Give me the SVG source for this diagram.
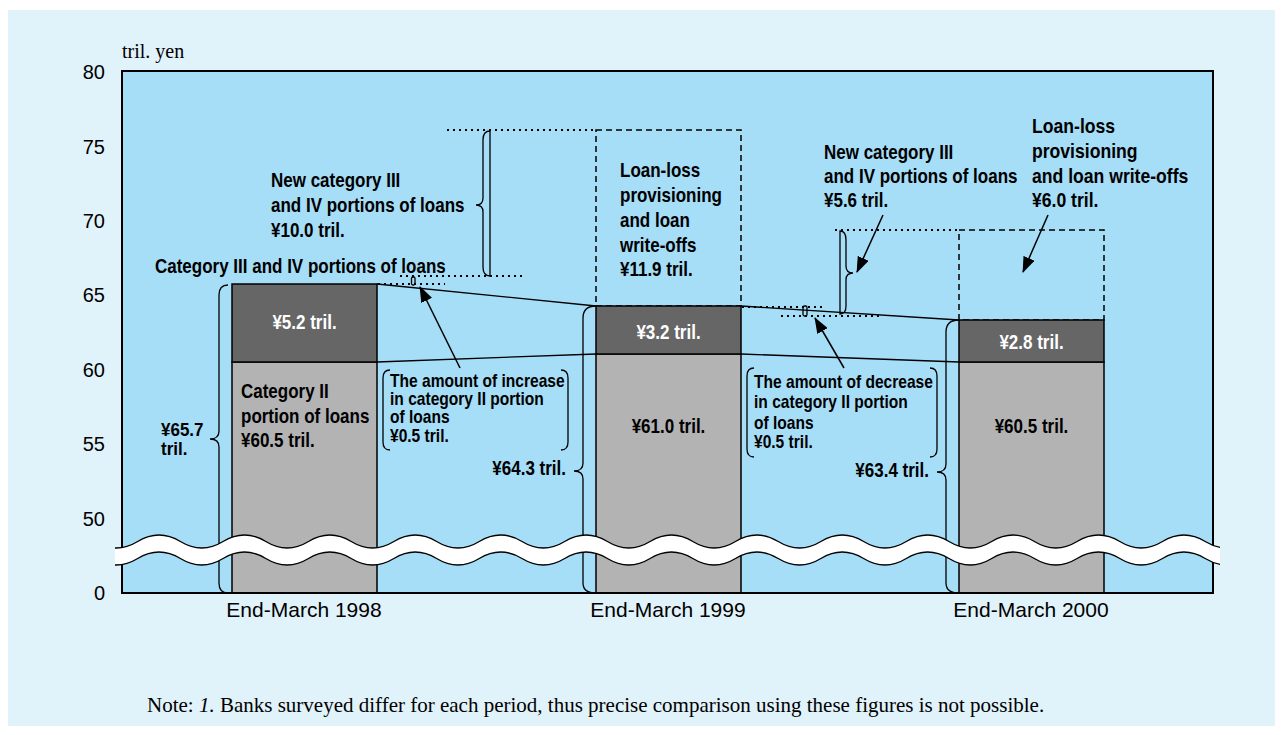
<svg xmlns="http://www.w3.org/2000/svg" width="1281" height="735" viewBox="0 0 1281 735">
  <style>
    .lbl { font-family: 'Liberation Sans', Arial, sans-serif; font-weight: bold; font-size: 20px; fill: #000; }
    .sm { font-size: 18px; }
    .md { font-size: 19px; }
    .wht { fill: #fff; }
    .mid { text-anchor: middle; }
    .end { text-anchor: end; }
    .tick { font-family: 'Liberation Sans', Arial, sans-serif; font-size: 20px; fill: #000; text-anchor: end; }
    .cat { font-family: 'Liberation Sans', Arial, sans-serif; font-size: 21px; fill: #000; text-anchor: middle; }
    .serif { font-family: 'Liberation Serif', 'Times New Roman', serif; font-size: 20px; fill: #000; }
    .note { font-size: 21px; }
    .dark { fill: #666666; stroke: #000; stroke-width: 1.5; }
    .light { fill: #b3b3b3; stroke: #000; stroke-width: 1.5; }
    .dash { fill: none; stroke: #000; stroke-width: 1.5; stroke-dasharray: 6 4; }
    .dot { fill: none; stroke: #000; stroke-width: 2; stroke-dasharray: 2 4; }
    .thin { fill: none; stroke: #000; stroke-width: 1.3; }
    .brace { fill: none; stroke: #000; stroke-width: 1.3; }
    .arrow { fill: none; stroke: #000; stroke-width: 1.5; marker-end: url(#head); }
  </style>
  <defs>
    <marker id="head" markerUnits="userSpaceOnUse" markerWidth="16" markerHeight="12" refX="15" refY="6" orient="auto">
      <path d="M0,0 L16,6 L0,12 Z" fill="#000"/>
    </marker>
    <clipPath id="breakClip">
      <rect x="115" y="515" width="1105" height="70"/>
    </clipPath>
  </defs>

  <!-- page background -->
  <rect x="8" y="10" width="1267" height="716" fill="#e0f2fa"/>

  <!-- plot area -->
  <rect id="plot" x="122" y="71" width="1091" height="522" fill="#a6ddf7"/>

  <!-- axis labels -->
  <g id="axis">
    <text class="serif" x="122" y="58">tril. yen</text>
    <text class="tick" x="105" y="79">80</text>
    <text class="tick" x="105" y="154">75</text>
    <text class="tick" x="105" y="228">70</text>
    <text class="tick" x="105" y="302">65</text>
    <text class="tick" x="105" y="377">60</text>
    <text class="tick" x="105" y="451">55</text>
    <text class="tick" x="105" y="526">50</text>
    <text class="tick" x="105" y="600">0</text>
    <text class="cat" x="304" y="617">End-March 1998</text>
    <text class="cat" x="668" y="617">End-March 1999</text>
    <text class="cat" x="1031" y="617">End-March 2000</text>
  </g>

  <!-- bars -->
  <g id="bar-1998">
    <rect class="light" x="232" y="362" width="145" height="231"/>
    <rect class="dark" x="232" y="284" width="145" height="78"/>
    <g transform="translate(304.5 0) scale(0.85 1)">
      <text class="lbl wht mid" x="0" y="329">¥5.2 tril.</text>
    </g>
    <g transform="translate(241 0) scale(0.85 1)">
      <text class="lbl" x="0" y="398">Category II</text>
      <text class="lbl" x="0" y="423">portion of loans</text>
      <text class="lbl" x="0" y="447">¥60.5 tril.</text>
    </g>
  </g>
  <g id="bar-1999">
    <rect class="dash" x="596" y="130" width="145" height="176"/>
    <rect class="light" x="596" y="354" width="145" height="239"/>
    <rect class="dark" x="596" y="306" width="145" height="48"/>
    <g transform="translate(668.5 0) scale(0.85 1)">
      <text class="lbl wht mid" x="0" y="339">¥3.2 tril.</text>
      <text class="lbl mid" x="0" y="433">¥61.0 tril.</text>
    </g>
  </g>
  <g id="bar-2000">
    <rect class="dash" x="959" y="230" width="145" height="90"/>
    <rect class="light" x="959" y="362" width="145" height="231"/>
    <rect class="dark" x="959" y="320" width="145" height="42"/>
    <g transform="translate(1031.5 0) scale(0.85 1)">
      <text class="lbl wht mid" x="0" y="349">¥2.8 tril.</text>
      <text class="lbl mid" x="0" y="433">¥60.5 tril.</text>
    </g>
  </g>

  <!-- connectors, guide lines, braces and arrows -->
  <g id="connectors">
    <line class="thin" x1="377" y1="284" x2="596" y2="306"/>
    <line class="thin" x1="377" y1="362" x2="596" y2="354"/>
    <line class="thin" x1="741" y1="306" x2="959" y2="320"/>
    <line class="thin" x1="741" y1="354" x2="959" y2="362"/>

    <line class="dot" x1="447" y1="130" x2="596" y2="130"/>
    <line class="dot" x1="400" y1="276" x2="525" y2="276"/>
    <line class="dot" x1="378" y1="284" x2="445" y2="284"/>
    <line class="dot" x1="742" y1="307" x2="826" y2="307"/>
    <line class="dot" x1="781" y1="316" x2="880" y2="316"/>
    <line class="dot" x1="835" y1="230" x2="959" y2="230"/>

    <!-- total braces -->
    <path class="brace" d="M228,285 Q219,285 219,295 L219,431 Q219,439 210,439 Q219,439 219,447 L219,583 Q219,593 228,593"/>
    <path class="brace" d="M596,306 Q583,306 583,318 L583,463 Q583,471 574,471 Q583,471 583,479 L583,583 Q583,593 596,593"/>
    <path class="brace" d="M959,320 Q946,320 946,332 L946,464 Q946,472 937,472 Q946,472 946,480 L946,583 Q946,593 959,593"/>

    <!-- new category III/IV braces -->
    <path class="brace" d="M490,131 Q483,131 483,140 L483,198 Q483,205 476,205 Q483,205 483,212 L483,267 Q483,276 490,276 Z"/>
    <path class="brace" d="M840,231 Q846,231 846,240 L846,266 Q846,273 853,273 Q846,273 846,280 L846,306 Q846,314 840,314 Z"/>

    <!-- small change markers -->
    <rect class="brace" x="411.5" y="277" width="3.5" height="8" rx="1.5"/>
    <rect class="brace" x="803" y="306" width="4" height="10" rx="1.5"/>

    <!-- brackets round the change notes -->
    <path class="brace" d="M390,370 Q383,370 383,378 L383,442 Q383,450 390,450"/>
    <path class="brace" d="M561,370 Q568,370 568,378 L568,442 Q568,450 561,450"/>
    <path class="brace" d="M754,368 Q747,368 747,376 L747,449 Q747,457 754,457"/>
    <path class="brace" d="M930,368 Q937,368 937,376 L937,449 Q937,457 930,457"/>

    <line class="arrow" x1="460" y1="368" x2="420" y2="287"/>
    <line class="arrow" x1="844" y1="368" x2="815" y2="318"/>
    <line class="arrow" x1="883" y1="215" x2="857" y2="272"/>
    <line class="arrow" x1="1048" y1="215" x2="1023" y2="272"/>
  </g>

  <!-- annotation labels (condensed by horizontal scaling) -->
  <g id="label-new-1999" transform="translate(271 0) scale(0.85 1)">
    <text class="lbl" x="0" y="187">New category III</text>
    <text class="lbl" x="0" y="212">and IV portions of loans</text>
    <text class="lbl" x="0" y="237">¥10.0 tril.</text>
  </g>
  <g id="label-cat34-1998" transform="translate(155 0) scale(0.85 1)">
    <text class="lbl" x="0" y="273">Category III and IV portions of loans</text>
  </g>
  <g id="label-writeoff-1999" transform="translate(620 0) scale(0.85 1)">
    <text class="lbl" x="0" y="177">Loan-loss</text>
    <text class="lbl" x="0" y="202">provisioning</text>
    <text class="lbl" x="0" y="227">and loan</text>
    <text class="lbl" x="0" y="252">write-offs</text>
    <text class="lbl" x="0" y="276">¥11.9 tril.</text>
  </g>
  <g id="label-new-2000" transform="translate(824 0) scale(0.85 1)">
    <text class="lbl" x="0" y="159">New category III</text>
    <text class="lbl" x="0" y="183">and IV portions of loans</text>
    <text class="lbl" x="0" y="207">¥5.6 tril.</text>
  </g>
  <g id="label-writeoff-2000" transform="translate(1032 0) scale(0.88 1)">
    <text class="lbl" x="0" y="133">Loan-loss</text>
    <text class="lbl" x="0" y="158">provisioning</text>
    <text class="lbl" x="0" y="183">and loan write-offs</text>
    <text class="lbl" x="0" y="207">¥6.0 tril.</text>
  </g>
  <g id="label-total-1998" transform="translate(161 0) scale(0.895 1)">
    <text class="lbl md" x="0" y="436">¥65.7</text>
    <text class="lbl md" x="0" y="455">tril.</text>
  </g>
  <g id="label-increase" transform="translate(390 0) scale(0.865 1)">
    <text class="lbl sm" x="0" y="387">The amount of increase</text>
    <text class="lbl sm" x="0" y="405">in category II portion</text>
    <text class="lbl sm" x="0" y="423">of loans</text>
    <text class="lbl sm" x="0" y="442">¥0.5 tril.</text>
  </g>
  <g id="label-total-1999" transform="translate(566 0) scale(0.85 1)">
    <text class="lbl end" x="0" y="475">¥64.3 tril.</text>
  </g>
  <g id="label-decrease" transform="translate(754 0) scale(0.865 1)">
    <text class="lbl sm" x="0" y="388">The amount of decrease</text>
    <text class="lbl sm" x="0" y="408">in category II portion</text>
    <text class="lbl sm" x="0" y="429">of loans</text>
    <text class="lbl sm" x="0" y="448">¥0.5 tril.</text>
  </g>
  <g id="label-total-2000" transform="translate(929 0) scale(0.85 1)">
    <text class="lbl end" x="0" y="477">¥63.4 tril.</text>
  </g>

  <!-- plot frame -->
  <rect x="122" y="71" width="1091" height="522" fill="none" stroke="#000" stroke-width="2"/>

  <!-- axis break band -->
  <g id="axis-break" clip-path="url(#breakClip)">
    <path fill="#fff" d="M95,541.5 q21.35,13 42.7,0 t42.7,0 t42.7,0 t42.7,0 t42.7,0 t42.7,0 t42.7,0 t42.7,0 t42.7,0 t42.7,0 t42.7,0 t42.7,0 t42.7,0 t42.7,0 t42.7,0 t42.7,0 t42.7,0 t42.7,0 t42.7,0 t42.7,0 t42.7,0 t42.7,0 t42.7,0 t42.7,0 t42.7,0 t42.7,0 t42.7,0 L1247.9,558.5 q-21.35,13 -42.7,0 t-42.7,0 t-42.7,0 t-42.7,0 t-42.7,0 t-42.7,0 t-42.7,0 t-42.7,0 t-42.7,0 t-42.7,0 t-42.7,0 t-42.7,0 t-42.7,0 t-42.7,0 t-42.7,0 t-42.7,0 t-42.7,0 t-42.7,0 t-42.7,0 t-42.7,0 t-42.7,0 t-42.7,0 t-42.7,0 t-42.7,0 t-42.7,0 t-42.7,0 t-42.7,0 Z"/>
    <path fill="none" stroke="#000" stroke-width="1.3" d="M95,541.5 q21.35,13 42.7,0 t42.7,0 t42.7,0 t42.7,0 t42.7,0 t42.7,0 t42.7,0 t42.7,0 t42.7,0 t42.7,0 t42.7,0 t42.7,0 t42.7,0 t42.7,0 t42.7,0 t42.7,0 t42.7,0 t42.7,0 t42.7,0 t42.7,0 t42.7,0 t42.7,0 t42.7,0 t42.7,0 t42.7,0 t42.7,0 t42.7,0"/>
    <path fill="none" stroke="#000" stroke-width="1.3" d="M95,558.5 q21.35,13 42.7,0 t42.7,0 t42.7,0 t42.7,0 t42.7,0 t42.7,0 t42.7,0 t42.7,0 t42.7,0 t42.7,0 t42.7,0 t42.7,0 t42.7,0 t42.7,0 t42.7,0 t42.7,0 t42.7,0 t42.7,0 t42.7,0 t42.7,0 t42.7,0 t42.7,0 t42.7,0 t42.7,0 t42.7,0 t42.7,0 t42.7,0"/>
  </g>

  <!-- footnote -->
  <text class="serif note" x="147" y="712">Note: <tspan font-style="italic">1.</tspan> Banks surveyed differ for each period, thus precise comparison using these figures is not possible.</text>
</svg>
